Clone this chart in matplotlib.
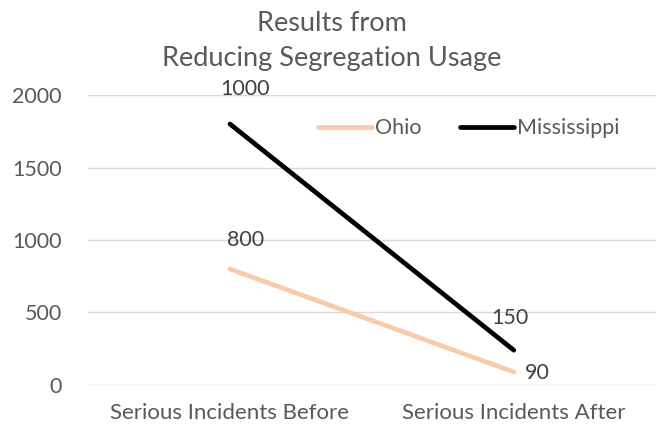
import matplotlib.pyplot as plt
import numpy as np

# data (Mississippi is stacked on top of Ohio in the original chart)
categories = ['Serious Incidents Before', 'Serious Incidents After']
ohio = [800, 90]
mississippi = [1000, 150]

plt.rcParams['font.family'] = ['Lato', 'DejaVu Sans']
grey = '#595959'

fig = plt.figure(figsize=(6.57, 4.28), dpi=100)
ax = fig.add_axes([0.134, 0.1005, 0.864, 0.6775])

x = np.arange(len(categories))
ohio_y = np.array(ohio)
miss_y = ohio_y + np.array(mississippi)

ax.plot(x, ohio_y, color='#F8CBAD', lw=3.4, solid_capstyle='round', label='Ohio', zorder=3)
ax.plot(x, miss_y, color='black', lw=3.4, solid_capstyle='round', label='Mississippi', zorder=3)

# data labels
lab = dict(textcoords='offset points', fontsize=15.5, color='#404040', va='center')
ax.annotate(str(mississippi[0]), (x[0], miss_y[0]), xytext=(11, 25), ha='center', **lab)
ax.annotate(str(ohio[0]), (x[0], ohio_y[0]), xytext=(11, 21), ha='center', **lab)
ax.annotate(str(mississippi[1]), (x[1], miss_y[1]), xytext=(-3, 23), ha='center', **lab)
ax.annotate(str(ohio[1]), (x[1], ohio_y[1]), xytext=(8, -1), ha='left', **lab)

ax.set_xlim(-0.5, 1.5)
ax.set_ylim(0, 2000)
ax.set_yticks([0, 500, 1000, 1500, 2000])
ax.set_xticks(x)
ax.set_xticklabels(categories)
ax.tick_params(axis='both', length=0, labelsize=15.5, colors=grey)
ax.tick_params(axis='x', labelsize=16, pad=13)
ax.tick_params(axis='y', pad=19)
ax.grid(axis='y', color='#D9D9D9', lw=1)
ax.set_axisbelow(True)
for s in ax.spines.values():
    s.set_visible(False)

fig.suptitle('Results from\nReducing Segregation Usage', x=0.505, y=0.975, fontsize=19.5,
             color=grey, linespacing=1.5)

ax.legend(loc='center left', bbox_to_anchor=(0.39, 0.885), ncol=2, frameon=False,
          fontsize=15.5, labelcolor=grey, handlelength=2.5, handletextpad=0.15,
          columnspacing=1.8, borderaxespad=0)

fig.savefig('out.png', dpi=100)
